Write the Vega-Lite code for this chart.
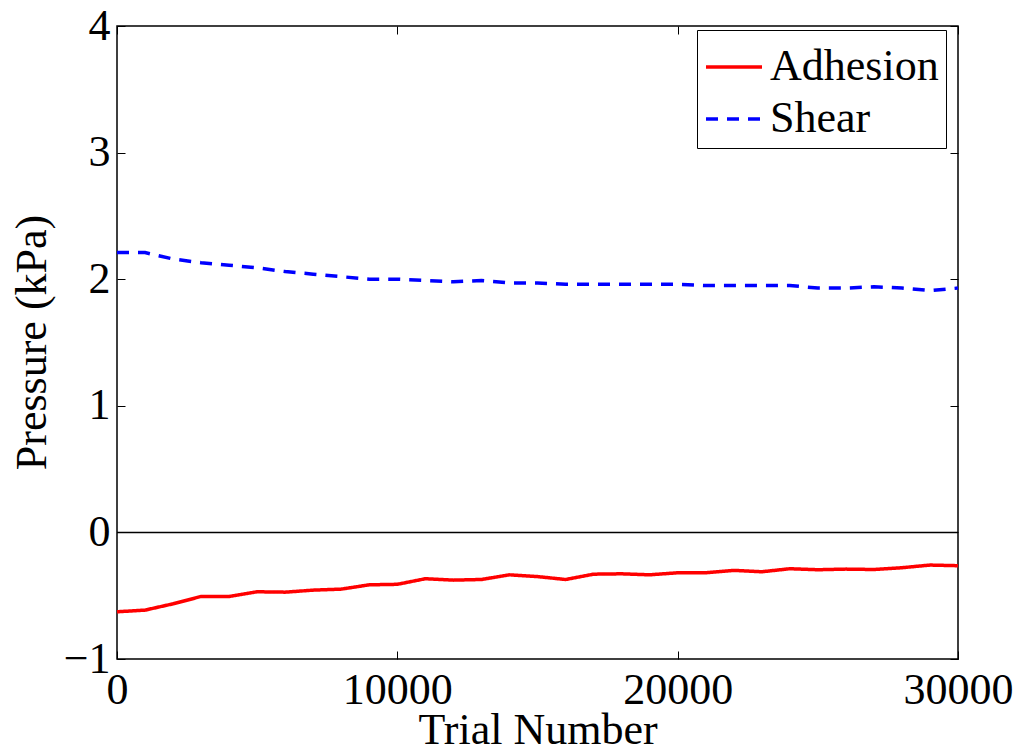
{
  "$schema": "https://vega.github.io/schema/vega-lite/v6.json",
  "width": 841,
  "height": 633,
  "autosize": "none",
  "padding": {"left": 117, "top": 26, "right": 62, "bottom": 93},
  "config": {
    "font": "Liberation Serif",
    "view": {"stroke": "black", "strokeWidth": 1.5},
    "axis": {
      "grid": false,
      "domain": false,
      "tickColor": "black",
      "tickSize": -8,
      "tickWidth": 1,
      "labelFont": "Liberation Serif",
      "labelFontSize": 44,
      "labelColor": "black",
      "labelFlush": false,
      "labelOverlap": false,
      "titleFont": "Liberation Serif",
      "titleFontSize": 44,
      "titleFontWeight": "normal",
      "titleColor": "black"
    }
  },
  "datasets": {
    "main": [
      {"trial": 0, "pressure": -0.627, "series": "Adhesion"},
      {"trial": 1000, "pressure": -0.614, "series": "Adhesion"},
      {"trial": 2000, "pressure": -0.564, "series": "Adhesion"},
      {"trial": 3000, "pressure": -0.506, "series": "Adhesion"},
      {"trial": 4000, "pressure": -0.506, "series": "Adhesion"},
      {"trial": 5000, "pressure": -0.469, "series": "Adhesion"},
      {"trial": 6000, "pressure": -0.472, "series": "Adhesion"},
      {"trial": 7000, "pressure": -0.456, "series": "Adhesion"},
      {"trial": 8000, "pressure": -0.448, "series": "Adhesion"},
      {"trial": 9000, "pressure": -0.414, "series": "Adhesion"},
      {"trial": 10000, "pressure": -0.41, "series": "Adhesion"},
      {"trial": 11000, "pressure": -0.366, "series": "Adhesion"},
      {"trial": 12000, "pressure": -0.377, "series": "Adhesion"},
      {"trial": 13000, "pressure": -0.372, "series": "Adhesion"},
      {"trial": 14000, "pressure": -0.335, "series": "Adhesion"},
      {"trial": 15000, "pressure": -0.349, "series": "Adhesion"},
      {"trial": 16000, "pressure": -0.372, "series": "Adhesion"},
      {"trial": 17000, "pressure": -0.33, "series": "Adhesion"},
      {"trial": 18000, "pressure": -0.327, "series": "Adhesion"},
      {"trial": 19000, "pressure": -0.335, "series": "Adhesion"},
      {"trial": 20000, "pressure": -0.319, "series": "Adhesion"},
      {"trial": 21000, "pressure": -0.319, "series": "Adhesion"},
      {"trial": 22000, "pressure": -0.3, "series": "Adhesion"},
      {"trial": 23000, "pressure": -0.311, "series": "Adhesion"},
      {"trial": 24000, "pressure": -0.287, "series": "Adhesion"},
      {"trial": 25000, "pressure": -0.295, "series": "Adhesion"},
      {"trial": 26000, "pressure": -0.29, "series": "Adhesion"},
      {"trial": 27000, "pressure": -0.293, "series": "Adhesion"},
      {"trial": 28000, "pressure": -0.279, "series": "Adhesion"},
      {"trial": 29000, "pressure": -0.258, "series": "Adhesion"},
      {"trial": 30000, "pressure": -0.263, "series": "Adhesion"},
      {"trial": 0, "pressure": 2.21, "series": "Shear"},
      {"trial": 1000, "pressure": 2.21, "series": "Shear"},
      {"trial": 2000, "pressure": 2.16, "series": "Shear"},
      {"trial": 3000, "pressure": 2.13, "series": "Shear"},
      {"trial": 4000, "pressure": 2.11, "series": "Shear"},
      {"trial": 5000, "pressure": 2.09, "series": "Shear"},
      {"trial": 6000, "pressure": 2.06, "series": "Shear"},
      {"trial": 7000, "pressure": 2.04, "series": "Shear"},
      {"trial": 8000, "pressure": 2.02, "series": "Shear"},
      {"trial": 9000, "pressure": 2.0, "series": "Shear"},
      {"trial": 10000, "pressure": 2.0, "series": "Shear"},
      {"trial": 11000, "pressure": 1.99, "series": "Shear"},
      {"trial": 12000, "pressure": 1.98, "series": "Shear"},
      {"trial": 13000, "pressure": 1.99, "series": "Shear"},
      {"trial": 14000, "pressure": 1.97, "series": "Shear"},
      {"trial": 15000, "pressure": 1.97, "series": "Shear"},
      {"trial": 16000, "pressure": 1.96, "series": "Shear"},
      {"trial": 17000, "pressure": 1.96, "series": "Shear"},
      {"trial": 18000, "pressure": 1.96, "series": "Shear"},
      {"trial": 19000, "pressure": 1.96, "series": "Shear"},
      {"trial": 20000, "pressure": 1.96, "series": "Shear"},
      {"trial": 21000, "pressure": 1.95, "series": "Shear"},
      {"trial": 22000, "pressure": 1.95, "series": "Shear"},
      {"trial": 23000, "pressure": 1.95, "series": "Shear"},
      {"trial": 24000, "pressure": 1.95, "series": "Shear"},
      {"trial": 25000, "pressure": 1.93, "series": "Shear"},
      {"trial": 26000, "pressure": 1.93, "series": "Shear"},
      {"trial": 27000, "pressure": 1.94, "series": "Shear"},
      {"trial": 28000, "pressure": 1.93, "series": "Shear"},
      {"trial": 29000, "pressure": 1.91, "series": "Shear"},
      {"trial": 30000, "pressure": 1.93, "series": "Shear"}
    ],
    "zero": [{"zero": 0}]
  },
  "layer": [
    {
      "data": {"name": "zero"},
      "mark": {"type": "rule", "color": "black", "strokeWidth": 1.5},
      "encoding": {
        "y": {"field": "zero", "type": "quantitative", "scale": {"domain": [-1, 4]}, "axis": null}
      }
    },
    {
      "data": {"name": "main"},
      "mark": {"type": "line", "opacity": 0},
      "encoding": {
        "x": {"field": "trial", "type": "quantitative", "scale": {"domain": [0, 30000], "nice": false},
              "axis": {"orient": "top", "labels": false, "title": null, "values": [0, 10000, 20000, 30000]}},
        "y": {"field": "pressure", "type": "quantitative", "scale": {"domain": [-1, 4], "nice": false},
              "axis": {"orient": "right", "labels": false, "title": null, "values": [-1, 0, 1, 2, 3, 4]}},
        "detail": {"field": "series"}
      }
    },
    {
      "data": {"name": "main"},
      "mark": {"type": "line", "strokeWidth": 3.5},
      "encoding": {
        "x": {"field": "trial", "type": "quantitative", "scale": {"domain": [0, 30000], "nice": false},
              "axis": {"orient": "bottom", "title": "Trial Number", "values": [0, 10000, 20000, 30000], "format": "d",
                       "labelPadding": 17, "titleY": 84, "titleBaseline": "alphabetic"}},
        "y": {"field": "pressure", "type": "quantitative", "scale": {"domain": [-1, 4], "nice": false},
              "axis": {"orient": "left", "title": "Pressure (kPa)", "values": [-1, 0, 1, 2, 3, 4], "format": "d",
                       "labelPadding": 15, "labelExpr": "replace(datum.label, '-', '\u2212')",
                       "titleX": -85, "titleY": 316, "titleBaseline": "middle", "titleAngle": -90}},
        "color": {"field": "series", "type": "nominal",
                  "scale": {"domain": ["Adhesion", "Shear"], "range": ["#ff0000", "#0000ff"]},
                  "legend": {"title": null, "orient": "none", "legendX": 580, "legendY": 4,
                             "strokeColor": "black", "fillColor": "white", "padding": 7,
                             "labelFontSize": 44, "labelFont": "Liberation Serif", "labelColor": "black",
                             "symbolType": "stroke", "symbolSize": 3136, "symbolStrokeWidth": 3.5,
                             "labelOffset": 6, "rowPadding": 0, "labelLimit": 400}},
        "strokeDash": {"field": "series", "type": "nominal",
                       "scale": {"domain": ["Adhesion", "Shear"], "range": [[1, 0], [12, 9]]},
                       "legend": {"title": null}}
      }
    }
  ],
  "resolve": {"axis": {"x": "independent", "y": "independent"}}
}
